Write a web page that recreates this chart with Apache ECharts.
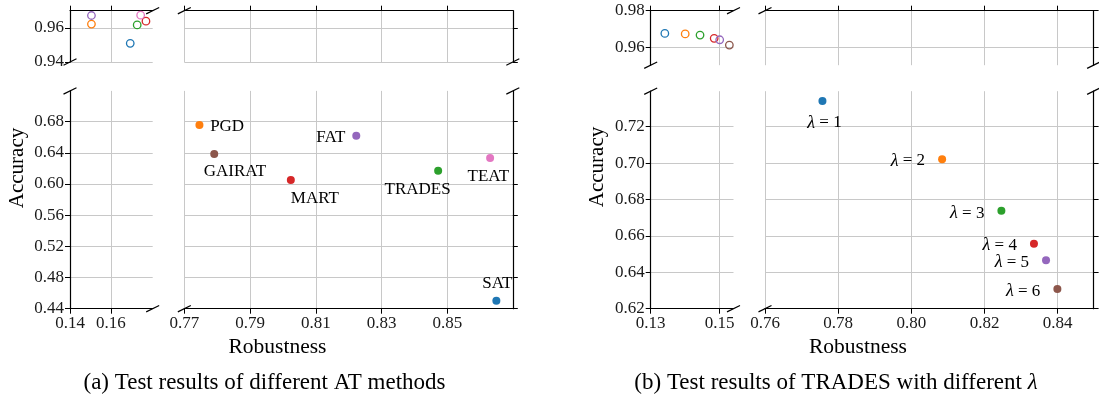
<!DOCTYPE html>
<html><head><meta charset="utf-8">
<script src="https://cdn.jsdelivr.net/npm/echarts@6/dist/echarts.min.js"></script>
<style>html,body{margin:0;padding:0;background:#fff}#c{width:1099px;height:402px}</style>
</head><body><div id="c"></div><script>
// ---------- data ----------
const methods = ['PGD', 'GAIRAT', 'MART', 'FAT', 'TRADES', 'TEAT', 'SAT'];
const methodColors = ['#ff7f0e', '#8c564b', '#d62728', '#9467bd', '#2ca02c', '#e377c2', '#1f77b4'];
const atRobustness = [0.7746, 0.7791, 0.8024, 0.8223, 0.8472, 0.8630, 0.8649];
const atAccuracy = [0.6758, 0.6385, 0.6052, 0.6620, 0.6171, 0.6334, 0.4503];
const atTopRobustness = [0.1505, null, 0.1772, 0.1505, 0.1729, 0.1746, 0.1695];
const atTopAccuracy = [0.9622, null, 0.9639, 0.9672, 0.9617, 0.9674, 0.9509];

const lambdas = [1, 2, 3, 4, 5, 6];
const lambdaColors = ['#1f77b4', '#ff7f0e', '#2ca02c', '#d62728', '#9467bd', '#8c564b'];
const lamRobustness = [0.7757, 0.8084, 0.8246, 0.8335, 0.8368, 0.8399];
const lamAccuracy = [0.7341, 0.7021, 0.6738, 0.6557, 0.6466, 0.6308];
const lamTopRobustness = [0.1341, 0.1400, 0.1443, 0.1484, 0.1500, 0.1528];
const lamTopAccuracy = [0.9675, 0.9672, 0.9666, 0.9648, 0.9640, 0.9611];

// tick labels
const aLeftXTicks = [0.14, 0.16];
const aRightXTicks = [0.77, 0.79, 0.81, 0.83, 0.85];
const aTopYTicks = [0.94, 0.96];
const aBottomYTicks = [0.44, 0.48, 0.52, 0.56, 0.60, 0.64, 0.68];
const bLeftXTicks = [0.13, 0.15];
const bRightXTicks = [0.76, 0.78, 0.80, 0.82, 0.84];
const bTopYTicks = [0.96, 0.98];
const bBottomYTicks = [0.62, 0.64, 0.66, 0.68, 0.70, 0.72];

// axis ranges
const aLeftXRange = [0.14, 0.1805], aRightXRange = [0.77, 0.8699];
const aTopYRange = [0.94, 0.97], aBottomYRange = [0.44, 0.7195];
const bLeftXRange = [0.13, 0.154], bRightXRange = [0.76, 0.8498];
const bTopYRange = [0.95, 0.98], bBottomYRange = [0.62, 0.7395];

// ---------- layout & style ----------
const FONT = 'Liberation Serif';
const GRIDC = '#c8c8c8';
const panels = [
  {lx: 70, lw: 82.7, rx: 184.3, rw: 328.5, ty: 10.7, th: 51.3, by: 90.9, bh: 217.8,
   xr: [aLeftXRange, aRightXRange], yr: [aTopYRange, aBottomYRange],
   xt: [aLeftXTicks, aRightXTicks], yt: [aTopYTicks, aBottomYTicks]},
  {lx: 650.7, lw: 82.8, rx: 765, rw: 328.6, ty: 10.7, th: 54.5, by: 91.2, bh: 217.5,
   xr: [bLeftXRange, bRightXRange], yr: [bTopYRange, bBottomYRange],
   xt: [bLeftXTicks, bRightXTicks], yt: [bTopYTicks, bBottomYTicks]}
];

const grids = [], xAxes = [], yAxes = [], series = [], graphics = [];
const axisLineStyle = {color: '#000', width: 1.2};
function fmt(v) { return v.toFixed(2); }

panels.forEach((p, pi) => {
  // cells: 0 TL, 1 TR, 2 BL, 3 BR
  for (let c = 0; c < 4; c++) {
    const isTop = c < 2, isLeft = c % 2 === 0;
    grids.push({left: isLeft ? p.lx : p.rx, width: isLeft ? p.lw : p.rw,
      top: isTop ? p.ty : p.by, height: isTop ? p.th : p.bh, outerBoundsMode: 'none', containLabel: false});
    const gi = grids.length - 1;
    const xr = p.xr[isLeft ? 0 : 1], yr = p.yr[isTop ? 0 : 1];
    const xt = p.xt[isLeft ? 0 : 1], yt = p.yt[isTop ? 0 : 1];
    xAxes.push({type: 'value', gridIndex: gi, min: xr[0], max: xr[1], position: isTop ? 'top' : 'bottom',
      axisLine: {show: true, onZero: false, lineStyle: axisLineStyle},
      axisTick: {show: true, inside: false, length: 5, customValues: xt, lineStyle: {color: '#000', width: 1}},
      axisLabel: {show: !isTop, customValues: xt, formatter: fmt, fontFamily: FONT, fontSize: 17, color: '#1a1a1a', margin: 6},
      splitLine: {show: true, lineStyle: {color: GRIDC, width: 1}}});
    yAxes.push({type: 'value', gridIndex: gi, min: yr[0], max: yr[1], position: isLeft ? 'left' : 'right',
      axisLine: {show: true, onZero: false, lineStyle: axisLineStyle},
      axisTick: {show: true, inside: false, length: 5, customValues: yt, lineStyle: {color: '#000', width: 1}},
      axisLabel: {show: isLeft, customValues: yt, formatter: fmt, fontFamily: FONT, fontSize: 17, color: '#1a1a1a', margin: 6},
      splitLine: {show: true, lineStyle: {color: GRIDC, width: 1}}});
  }
  // break marks
  const L = p.lx, LR = p.lx + p.lw, R = p.rx, RR = p.rx + p.rw;
  const T = p.ty, TB = p.ty + p.th, B = p.by, BB = p.by + p.bh;
  [[LR, T], [L, TB], [R, T], [RR, TB], [L, B], [LR, BB], [R, BB], [RR, B]].forEach(pt => {
    graphics.push({type: 'line', shape: {x1: pt[0] - 6.5, y1: pt[1] + 3.2, x2: pt[0] + 6.5, y2: pt[1] - 3.2},
      style: {stroke: '#000', lineWidth: 1.2}, z: 100});
  });
});

// ---------- series ----------
function hollow(xs, ys, cols) {
  return xs.map((x, i) => x == null ? null : ({value: [x, ys[i]],
    itemStyle: {color: 'rgba(0,0,0,0)', borderColor: cols[i], borderWidth: 1.3, opacity: 1}}));
}
series.push({type: 'scatter', xAxisIndex: 0, yAxisIndex: 0, symbolSize: 7.5, silent: true,
  data: hollow(atTopRobustness, atTopAccuracy, methodColors).filter(d => d)});
series.push({type: 'scatter', xAxisIndex: 4, yAxisIndex: 4, symbolSize: 7.5, silent: true,
  data: hollow(lamTopRobustness, lamTopAccuracy, lambdaColors)});

const atLabelPos = {
  PGD: {align: 'left', offset: [10.7, 1.7]},
  GAIRAT: {align: 'center', offset: [20.7, 17.7]},
  MART: {align: 'center', offset: [24, 18.3]},
  FAT: {align: 'right', offset: [-11, 1.6]},
  TRADES: {align: 'center', offset: [-20.5, 18.6]},
  TEAT: {align: 'center', offset: [-1.8, 18.7]},
  SAT: {align: 'center', offset: [1, -17.4]}
};
series.push({type: 'scatter', xAxisIndex: 3, yAxisIndex: 3, symbolSize: 8, silent: true,
  data: methods.map((m, i) => ({value: [atRobustness[i], atAccuracy[i]], name: m,
    itemStyle: {color: methodColors[i], opacity: 1},
    label: {show: true, position: 'inside', formatter: m, verticalAlign: 'middle',
      align: atLabelPos[m].align, offset: atLabelPos[m].offset,
      fontFamily: FONT, fontSize: 17, color: '#000', textBorderWidth: 0}}))});

const lamLabelPos = [
  {align: 'center', offset: [2, 22]},
  {align: 'right', offset: [-17, 1.7]},
  {align: 'right', offset: [-17, 2.6]},
  {align: 'right', offset: [-17, 2]},
  {align: 'right', offset: [-17, 2.4]},
  {align: 'right', offset: [-17, 2.7]}
];
series.push({type: 'scatter', xAxisIndex: 7, yAxisIndex: 7, symbolSize: 8, silent: true,
  data: lambdas.map((l, i) => ({value: [lamRobustness[i], lamAccuracy[i]],
    itemStyle: {color: lambdaColors[i], opacity: 1},
    label: {show: true, position: 'inside', formatter: '{i|λ} = ' + l, verticalAlign: 'middle',
      align: lamLabelPos[i].align, offset: lamLabelPos[i].offset,
      fontFamily: FONT, fontSize: 17, color: '#000', textBorderWidth: 0,
      rich: {i: {fontFamily: FONT, fontStyle: 'italic', fontSize: 18, color: '#000', textBorderWidth: 0}}}}))});

// ---------- titles & captions ----------
function txt(x, y, text, size, rot, rich) {
  graphics.push({type: 'text', x: x, y: y, rotation: rot || 0,
    style: {text: text, fontFamily: FONT, fontSize: size, fill: '#000', align: 'center', verticalAlign: 'middle', rich: rich}, z: 100});
}
txt(277.5, 347, 'Robustness', 21.5);
txt(858, 347, 'Robustness', 21.5);
txt(17, 168, 'Accuracy', 21);
txt(597.5, 167, 'Accuracy', 21);
graphics[graphics.length - 1].rotation = Math.PI / 2;
graphics[graphics.length - 2].rotation = Math.PI / 2;
txt(264.5, 383, '(a) Test results of different AT methods', 23);
txt(836, 383, '(b) Test results of TRADES with different {i|λ}', 23, 0,
  {i: {fontFamily: FONT, fontStyle: 'italic', fontSize: 23, fill: '#000'}});

const chart = echarts.init(document.getElementById('c'), null, {renderer: 'canvas'});
chart.setOption({animation: false, backgroundColor: '#fff', grid: grids, xAxis: xAxes, yAxis: yAxes,
  series: series, graphic: graphics});
</script></body></html>
